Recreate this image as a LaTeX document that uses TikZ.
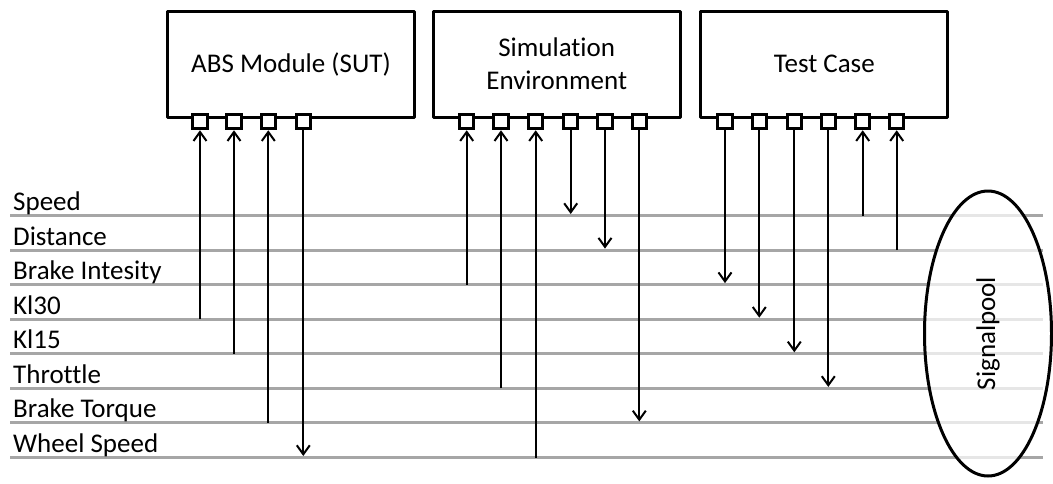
\documentclass[tikz,border=0pt]{standalone}
\usepackage{fontspec}
\setmainfont{Carlito}[Ligatures=NoCommon]
\usetikzlibrary{arrows.meta,shapes.geometric}
\definecolor{siggray}{HTML}{A6A6A6}
\begin{document}
\begin{tikzpicture}[x=1pt,y=-1pt,
  every node/.style={font=\fontsize{27}{33}\selectfont},
  blockbox/.style={draw,line width=3pt,line join=round,minimum width=247pt,minimum height=106pt,inner sep=0pt,align=center,fill=white},
  port/.style={draw,line width=3pt,fill=white,minimum width=14.5pt,minimum height=14.5pt,inner sep=0pt},
  sigline/.style={draw=siggray,line width=3pt},
  siglabel/.style={anchor=base west,inner sep=0pt},
  conn/.style={line width=2pt},
  tip/.style={-{Straight Barb[length=9pt,width=13pt,line width=2pt]}},
  pool/.style={draw,ellipse,line width=3pt,fill=white,fill opacity=0.72,text opacity=1,minimum width=127pt,minimum height=285pt,inner sep=0pt}
]
\useasboundingbox (0,0) rectangle (1053,483);

% signal lines
\foreach \n/\y in {1/215.5,2/250.1,3/284.6,4/319.2,5/353.8,6/388.4,7/422.9,8/457.5}{
  \coordinate (L\n) at (10,\y);
  \coordinate (R\n) at (1043,\y);
  \draw[sigline] (L\n) -- (R\n);
}
\node[siglabel] (lab1) at (13,210.5) {Speed};
\node[siglabel] (lab2) at (13,245.1) {Distance};
\node[siglabel] (lab3) at (13,279.6) {Brake Intesity};
\node[siglabel] (lab4) at (13,314.2) {Kl30};
\node[siglabel] (lab5) at (13,348.8) {Kl15};
\node[siglabel] (lab6) at (13,383.4) {Throttle};
\node[siglabel] (lab7) at (13,417.9) {Brake Torque};
\node[siglabel] (lab8) at (13,452.5) {Wheel Speed};

% blocks
\node[blockbox] (abs) at (291,64) {ABS Module (SUT)};
\node[blockbox] (sim) at (556.7,64) {Simulation\\Environment};
\node[blockbox] (tc) at (824.3,64) {Test Case};

% ports
\foreach \n/\x in {1/200,2/234,3/268.3,4/303.3}{
  \node[port] (a\n) at (\x,121.5) {};
}
\foreach \n/\x in {1/466.7,2/501,3/535.7,4/570.7,5/605,6/639.3}{
  \node[port] (s\n) at (\x,121.5) {};
}
\foreach \n/\x in {1/725,2/759.3,3/794.3,4/828.3,5/862.7,6/896.7}{
  \node[port] (t\n) at (\x,121.5) {};
}

% connector end points on the signal lines
\coordinate (ea1) at (200,319.2);
\coordinate (ea2) at (234,353.8);
\coordinate (ea3) at (268.3,422.9);
\coordinate (ea4) at (303.3,456);
\coordinate (es1) at (466.7,284.6);
\coordinate (es2) at (501,388.4);
\coordinate (es3) at (535.7,457.5);
\coordinate (es4) at (570.7,214);
\coordinate (es5) at (605,248.6);
\coordinate (es6) at (639.3,421.4);
\coordinate (et1) at (725,283.1);
\coordinate (et2) at (759.3,317.7);
\coordinate (et3) at (794.3,352.3);
\coordinate (et4) at (828.3,386.9);
\coordinate (et5) at (862.7,215.5);
\coordinate (et6) at (896.7,250.1);

% inputs (arrow into port)
\draw[conn,tip] (ea1) -- (a1.south);
\draw[conn,tip] (ea2) -- (a2.south);
\draw[conn,tip] (ea3) -- (a3.south);
\draw[conn,tip] (es1) -- (s1.south);
\draw[conn,tip] (es2) -- (s2.south);
\draw[conn,tip] (es3) -- (s3.south);
\draw[conn,tip] (et5) -- (t5.south);
\draw[conn,tip] (et6) -- (t6.south);
% outputs (arrow to signal line)
\draw[conn,tip] (a4.south) -- (ea4);
\draw[conn,tip] (s4.south) -- (es4);
\draw[conn,tip] (s5.south) -- (es5);
\draw[conn,tip] (s6.south) -- (es6);
\draw[conn,tip] (t1.south) -- (et1);
\draw[conn,tip] (t2.south) -- (et2);
\draw[conn,tip] (t3.south) -- (et3);
\draw[conn,tip] (t4.south) -- (et4);

% signal pool
\node[pool] (sp) at (988,333.5) {};
\node[rotate=90,inner sep=0pt] (splabel) at (sp.center) {Signalpool};
\end{tikzpicture}
\end{document}
